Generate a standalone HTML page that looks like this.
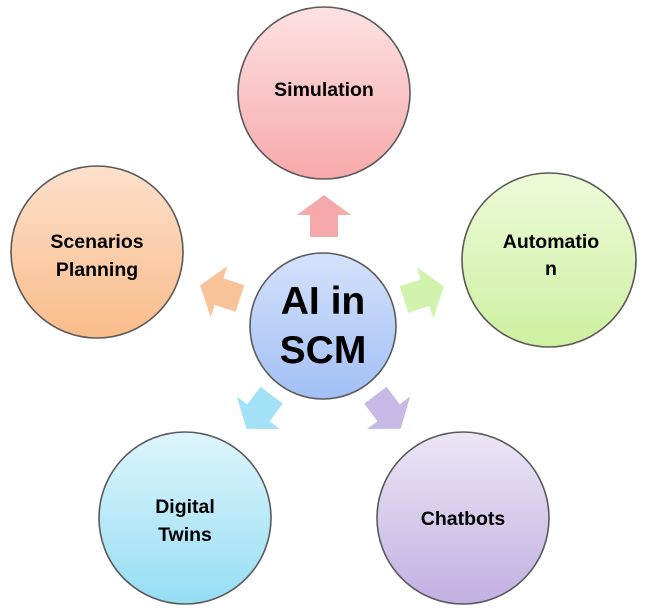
<!DOCTYPE html>
<html><head><meta charset="utf-8"><style>
html,body{margin:0;padding:0;background:#fff;}
svg{display:block;}
text{font-family:"Liberation Sans",sans-serif;font-weight:bold;fill:#000;}
</style></head><body>
<svg width="647" height="614" viewBox="0 0 647 614" xmlns="http://www.w3.org/2000/svg">
<defs>
<linearGradient id="gp" x1="0" y1="0" x2="0" y2="1"><stop offset="0" stop-color="#fde2e3"/><stop offset="1" stop-color="#f7a9aa"/></linearGradient>
<linearGradient id="gg" x1="0" y1="0" x2="0" y2="1"><stop offset="0" stop-color="#eefad9"/><stop offset="1" stop-color="#cdf0a0"/></linearGradient>
<linearGradient id="go" x1="0" y1="0" x2="0" y2="1"><stop offset="0" stop-color="#fde0cb"/><stop offset="1" stop-color="#f9bc8a"/></linearGradient>
<linearGradient id="gc" x1="0" y1="0" x2="0" y2="1"><stop offset="0" stop-color="#def5fc"/><stop offset="1" stop-color="#95def4"/></linearGradient>
<linearGradient id="gv" x1="0" y1="0" x2="0" y2="1"><stop offset="0" stop-color="#ece6f6"/><stop offset="1" stop-color="#c2b0e2"/></linearGradient>
<linearGradient id="gb" x1="0" y1="0" x2="0" y2="1"><stop offset="0" stop-color="#d4e2fb"/><stop offset="1" stop-color="#a2bff5"/></linearGradient>
<polygon id="arr" points="0,-21 27,-1 14,-1 14,21 -14,21 -14,-1 -27,-1"/>
</defs>
<g stroke="#5a5a5a" stroke-width="1.6">
<circle cx="324" cy="93" r="86" fill="url(#gp)"/>
<circle cx="549" cy="260" r="87" fill="url(#gg)"/>
<circle cx="97" cy="252" r="86" fill="url(#go)"/>
<circle cx="185" cy="518" r="86" fill="url(#gc)"/>
<circle cx="463" cy="518" r="86" fill="url(#gv)"/>
<circle cx="323" cy="326" r="73" fill="url(#gb)"/>
</g>
<use href="#arr" transform="translate(324,216)" fill="#f6a9ab"/>
<use href="#arr" transform="translate(424,293) rotate(72)" fill="#d2f3ad"/>
<use href="#arr" transform="translate(220,292) rotate(-72)" fill="#f9c39a"/>
<use href="#arr" transform="translate(259,412) rotate(-143)" fill="#a3e2f6"/>
<use href="#arr" transform="translate(388,412) rotate(143)" fill="#c7b8e5"/>
<g text-anchor="middle" font-size="19.5">
<text x="324" y="96">Simulation</text>
<text x="551" y="248">Automatio</text>
<text x="551" y="275">n</text>
<text x="97" y="248">Scenarios</text>
<text x="97" y="276">Planning</text>
<text x="185" y="513">Digital</text>
<text x="185" y="541">Twins</text>
<text x="463" y="525">Chatbots</text>
</g>
<g text-anchor="middle" font-size="39">
<text x="323" y="314">AI in</text>
<text x="323" y="363">SCM</text>
</g>
</svg>
</body></html>
